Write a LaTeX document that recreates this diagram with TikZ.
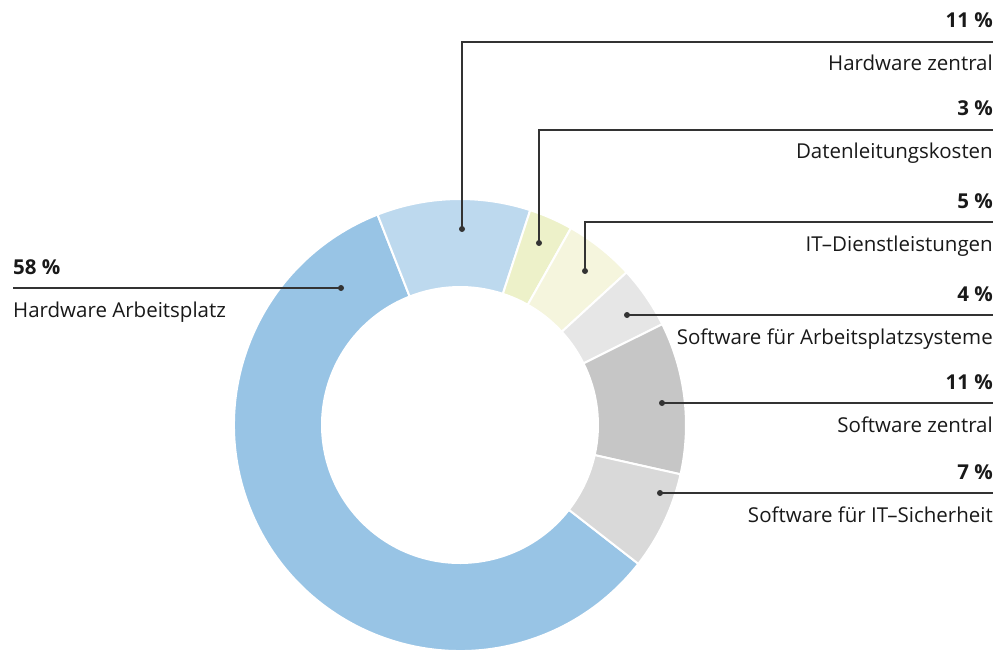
\documentclass[tikz,border=0pt]{standalone}
\usepackage{fontspec}
\setmainfont{Open Sans}
\usepackage{tikz}
\usetikzlibrary{calc}

\definecolor{hwplatz}{HTML}{98C4E5}
\definecolor{hwzentral}{HTML}{BDD9EE}
\definecolor{datenltg}{HTML}{EDF1C9}
\definecolor{itdienst}{HTML}{F5F5DD}
\definecolor{swplatz}{HTML}{E6E6E6}
\definecolor{swzentral}{HTML}{C6C6C6}
\definecolor{swsicher}{HTML}{D9D9D9}
\definecolor{leadergray}{HTML}{333333}

\tikzset{
    segment/.style={draw=white, line width=2pt},
    leader/.style={draw=leadergray, line width=1.2pt},
    pct/.style={font=\bfseries\fontsize{20.5}{24}\selectfont, text=black!90, inner sep=0pt, anchor=base east},
    lbl/.style={font=\fontsize{20.5}{24}\selectfont, text=black!90, inner sep=0pt, anchor=base east},
    lbll/.style={font=\fontsize{20.5}{24}\selectfont, text=black!90, inner sep=0pt, anchor=base west},
    pctl/.style={font=\bfseries\fontsize{20.5}{24}\selectfont, text=black!90, inner sep=0pt, anchor=base west}
}

\begin{document}
\begin{tikzpicture}[x=1pt, y=1pt]
    \clip (0,0) rectangle (1004,-650);
    \coordinate (ctr) at (460,-425);

    % donut ring
    \foreach \from/\to/\col in {111.4/322.1/hwplatz, 71.9/111.4/hwzentral,
                                60.6/71.9/datenltg, 42.5/60.6/itdienst,
                                26.5/42.5/swplatz, -12.6/26.5/swzentral,
                                -37.9/-12.6/swsicher}
        \filldraw[segment, fill=\col]
            ($(ctr)+(\from:226)$) arc[start angle=\from, end angle=\to, radius=226]
            -- ($(ctr)+(\to:138)$) arc[start angle=\to, end angle=\from, radius=138]
            -- cycle;

    % callouts on the right
    \foreach \nm/\px/\py/\ly/\pc/\txt in {
            hwz/462/229/42/11/Hardware zentral,
            dtl/539/243/130/3/Datenleitungskosten,
            itd/585/271/222/5/IT--Dienstleistungen,
            swp/627/315/315/4/Software für Arbeitsplatzsysteme,
            swz/662/403/403/11/Software zentral,
            sws/660/493/493/7/Software für IT--Sicherheit} {
        \coordinate (\nm-dot) at (\px,-\py);
        \coordinate (\nm-end) at (993,-\ly);
        \draw[leader] (\nm-dot) |- (\nm-end);
        \fill[leadergray] (\nm-dot) circle (3);
        \node[pct] (\nm-pct) at ($(\nm-end)+(0,14)$) {\pc{} \%};
        \node[lbl] (\nm-lbl) at ($(\nm-end)+(0,-29)$) {\txt};
    }

    % Hardware Arbeitsplatz (left)
    \coordinate (hwp-dot) at (341,-288);
    \coordinate (hwp-end) at (13,-288);
    \draw[leader] (hwp-dot) -- (hwp-end);
    \fill[leadergray] (hwp-dot) circle (3);
    \node[pctl] (hwp-pct) at ($(hwp-end)+(0,14)$) {58 \%};
    \node[lbll] (hwp-lbl) at ($(hwp-end)+(0,-29)$) {Hardware Arbeitsplatz};
\end{tikzpicture}
\end{document}
